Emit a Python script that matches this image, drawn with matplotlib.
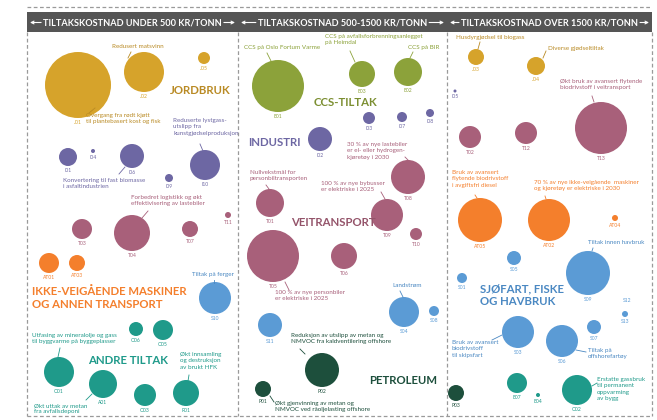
import matplotlib
matplotlib.use('Agg')
import matplotlib.pyplot as plt
from matplotlib.patches import Circle, Rectangle

plt.rcParams['font.family'] = ['Lato', 'DejaVu Sans']

W, H = 657, 420

# group colours
cJord = '#D6A32B'
cInd = '#6D67A3'
cVei = '#A8607A'
cAT = '#F47F2C'
cSjo = '#5B9BD5'
cAndre = '#1F9A8A'
cCCS = '#8CA23A'
cPet = '#1D4F3C'

# bubbles: (id, x, y, radius) in picture pixels
jordbruk = [('J01', 78, 85, 33), ('J02', 144, 72, 20), ('J05', 204, 58, 6),
            ('J03', 476, 57, 8), ('J04', 536, 66, 9)]
industri = [('I01', 68, 157, 9), ('I04', 93, 151, 2), ('I06', 132, 156, 12),
            ('I09', 169, 178, 4), ('I10', 205, 165, 15), ('I03', 369, 118, 6),
            ('I07', 402, 117, 5), ('I08', 430, 113, 4), ('I02', 320, 139, 12),
            ('I05', 455, 91, 1.5)]
veitransport = [('T03', 82, 229, 10), ('T04', 132, 233, 18), ('T07', 190, 229, 8),
                ('T11', 228, 215, 3), ('T08', 408, 177, 17), ('T01', 270, 203, 14),
                ('T09', 387, 215, 16), ('T10', 416, 234, 6), ('T05', 273, 256, 26),
                ('T06', 344, 256, 13), ('T02', 470, 137, 11), ('T12', 526, 133, 11),
                ('T13', 601, 128, 26)]
ikkeveig = [('AT01', 49, 263, 10), ('AT03', 77, 263, 8), ('AT05', 480, 220, 22),
            ('AT02', 549, 220, 21), ('AT04', 615, 218, 3)]
sjofart = [('S10', 215, 298, 16), ('S04', 404, 312, 15), ('S08', 434, 311, 5),
           ('S11', 270, 325, 12), ('S05', 514, 258, 7), ('S01', 462, 278, 5),
           ('S09', 588, 273, 22), ('S12', 627, 296, 0), ('S13', 625, 314, 3),
           ('S03', 518, 332, 16), ('S06', 562, 341, 16), ('S07', 594, 327, 7)]
andre = [('O06', 136, 329, 7), ('O05', 163, 330, 10), ('O01', 59, 372, 15),
         ('A01', 103, 384, 14), ('O03', 145, 395, 11), ('R01', 186, 393, 13),
         ('E07', 517, 383, 10), ('E04', 538, 395, 2), ('O02', 577, 390, 15)]
ccs = [('E01', 278, 86, 26), ('E03', 362, 74, 13), ('E02', 408, 72, 14)]
petroleum = [('P02', 322, 370, 17), ('P01', 263, 389, 8), ('P03', 456, 393, 8)]

groups = [(jordbruk, cJord), (industri, cInd), (veitransport, cVei), (ikkeveig, cAT),
          (sjofart, cSjo), (andre, cAndre), (ccs, cCCS), (petroleum, cPet)]

# group titles: (text, x, y, colour)
titles = [('JORDBRUK', 170, 90, '#B98A24'),
          ('IKKE-VEIGÅENDE MASKINER\nOG ANNEN TRANSPORT', 32, 298, cAT),
          ('ANDRE TILTAK', 88, 361, cAndre),
          ('CCS-TILTAK', 314, 102, '#7C8F32'),
          ('INDUSTRI', 248, 142, cInd),
          ('VEITRANSPORT', 291, 222, '#94546A'),
          ('PETROLEUM', 369, 381, cPet),
          ('SJØFART, FISKE\nOG HAVBRUK', 480, 295, '#4A88C2')]

# notes: (text, x, y(top), colour, leader line x0, y0, x1, y1)
notes = [('Redusert matsvinn', 112, 44, '#B98A24', 131, 52, 128, 58),
         ('Overgang fra rødt kjøtt\ntil plantebasert kost og fisk', 86, 113, '#B98A24', 89, 113, 95, 108),
         ('Reduserte lystgass-\nutslipp fra\nkunstgjødselproduksjon', 173, 118, cInd, 200, 144, 203, 151),
         ('Konvertering til fast biomasse\ni asfaltindustrien', 63, 178, cInd, 119, 174, 125, 167),
         ('Forbedret logistikk og økt\neffektivisering av lastebiler', 131, 195, cVei, 148, 211, 142, 218),
         ('Tiltak på ferger', 192, 272, '#4A88C2', 214, 280, 214, 283),
         ('Utfasing av mineralolje og gass\ntil byggvarme på byggeplasser', 32, 333, cAndre, 60, 348, 58, 357),
         ('Økt uttak av metan\nfra avfallsdeponi', 34, 403, cAndre, 86, 400, 92, 394),
         ('Økt innsamling\nog destruksjon\nav brukt HFK', 180, 352, cAndre, 189, 375, 188, 381),
         ('CCS på Oslo Fortum Varme', 244, 45, cCCS, 267, 53, 271, 61),
         ('CCS på avfallsforbrenningsanlegget\npå Heimdal', 325, 34, cCCS, 350, 51, 355, 62),
         ('CCS på BIR', 408, 45, cCCS, 413, 52, 410, 58),
         ('30 % av nye lastebiler\ner el- eller hydrogen-\nkjøretøy i 2030', 347, 142, cVei, 405, 157, 409, 161),
         ('Nullvekstmål for\npersonbiltransporten', 250, 170, cVei, 266, 185, 269, 189),
         ('100 % av nye bybusser\ner elektriske i 2025', 321, 181, cVei, 381, 192, 385, 199),
         ('100 % av nye personbiler\ner elektriske i 2025', 275, 290, cVei, 285, 282, 289, 290),
         ('Landstrøm', 392, 283, '#4A88C2', 400, 291, 403, 297),
         ('Reduksjon av utslipp av metan og\nNMVOC fra kaldventilering offshore', 291, 333, cPet, 300, 349, 305, 354),
         ('Økt gjenvinning av metan og\nNMVOC ved råoljelasting offshore', 275, 401, cPet, 270, 396, 274, 402),
         ('Husdyrgjødsel til biogass', 456, 35, '#B98A24', 480, 42, 478, 49),
         ('Diverse gjødseltiltak', 548, 46, '#B98A24', 546, 51, 543, 58),
         ('Økt bruk av avansert flytende\nbiodrivstoff i veitransport', 560, 79, cVei, 592, 96, 594, 102),
         ('Bruk av avansert\nflytende biodrivstoff\ni avgiftsfri diesel', 452, 170, cAT, 475, 195, 477, 198),
         ('70 % av nye ikke-veigående  maskiner\nog kjøretøy er elektriske i 2030', 534, 180, cAT, 545, 196, 546, 199),
         ('Tiltak innen havbruk', 588, 240, '#4A88C2', 593, 248, 592, 251),
         ('Bruk av avansert\nbiodrivstoff\ntil skipsfart', 452, 340, '#4A88C2', 492, 340, 502, 335),
         ('Tiltak på\noffshorefartøy', 588, 348, '#4A88C2', 576, 350, 586, 352),
         ('Erstatte gassbruk\ntil permanent\noppvarming\nav bygg', 597, 377, cAndre, 592, 386, 597, 383)]

headers = ['TILTAKSKOSTNAD UNDER 500 KR/TONN',
           'TILTAKSKOSTNAD 500-1500 KR/TONN',
           'TILTAKSKOSTNAD OVER 1500 KR/TONN']
columnEdges = [27, 238, 447, 652]

fig = plt.figure(figsize=(W / 100, H / 100), dpi=100)
ax = fig.add_axes([0, 0, 1, 1])
ax.set_xlim(0, W)
ax.set_ylim(H, 0)
ax.axis('off')

# frame
dash = dict(color='#9a9a9a', lw=0.9, ls=(0, (3, 2)))
ax.plot([columnEdges[0], columnEdges[-1]], [7, 7], **dash)
ax.plot([columnEdges[0], columnEdges[-1]], [416, 416], **dash)
for xe in columnEdges:
    ax.plot([xe, xe], [32, 416], **dash)
ax.add_patch(Rectangle((columnEdges[0], 12), columnEdges[-1] - columnEdges[0], 20,
                       color='#555555', lw=0))

fig.canvas.draw()
rend = fig.canvas.get_renderer()
inv = ax.transData.inverted()
for i, txt in enumerate(headers):
    xl, xr = columnEdges[i], columnEdges[i + 1]
    xc = (xl + xr) / 2
    t = ax.text(xc, 22.5, txt, color='white', fontsize=6.6, fontweight='bold',
                ha='center', va='center')
    bb = t.get_window_extent(rend)
    x0 = inv.transform((bb.x0, bb.y0))[0]
    x1 = inv.transform((bb.x1, bb.y0))[0]
    arr = dict(arrowstyle='->', color='white', lw=0.8, shrinkA=0, shrinkB=0,
               mutation_scale=5)
    ax.annotate('', xy=(xl + 3, 22.5), xytext=(x0 - 2, 22.5), arrowprops=arr)
    ax.annotate('', xy=(xr - 3, 22.5), xytext=(x1 + 2, 22.5), arrowprops=arr)

for bubbles, col in groups:
    for name, x, y, r in bubbles:
        if r > 0:
            ax.add_patch(Circle((x, y), r, color=col, lw=0))
        ax.text(x, y + r + 2, name, color=col, fontsize=3.6, ha='center', va='top')

for txt, x, y, col in titles:
    ax.text(x, y, txt, color=col, fontsize=8.2, fontweight='bold', ha='left',
            va='center', linespacing=1.25)

for txt, x, y, col, lx0, ly0, lx1, ly1 in notes:
    ax.text(x, y, txt, color=col, fontsize=4.5, ha='left', va='top', linespacing=1.35)
    ax.plot([lx0, lx1], [ly0, ly1], color=col, lw=0.6)

fig.savefig('out.png', dpi=100, facecolor='white')
